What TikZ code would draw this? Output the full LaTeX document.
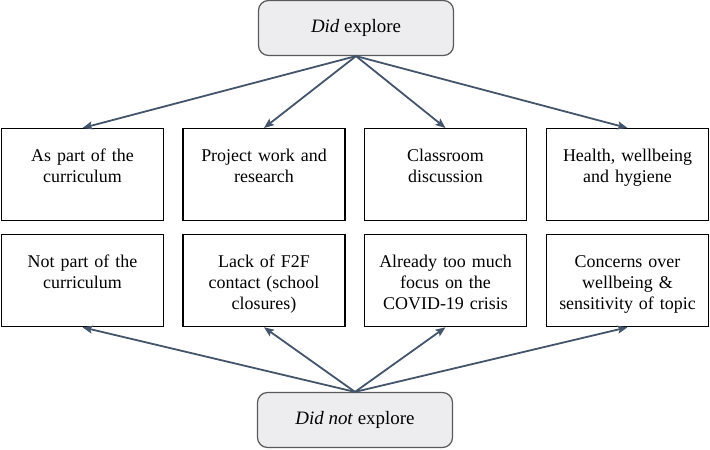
\documentclass[tikz,border=0pt]{standalone}
\usepackage{fontspec}
\setmainfont{Liberation Serif}
\usetikzlibrary{arrows.meta}
\definecolor{seta}{HTML}{44546A}
\definecolor{fundo}{HTML}{EDEDF0}
\tikzset{
caixa/.style = {draw, line width=1.3bp, text width=152bp, align=center, inner xsep=5bp, inner ysep=0pt,
    text height=33bp, text depth=59bp, anchor=north, font=\fontsize{18}{21}\selectfont}
}
\tikzset{
grupo/.style = {draw=black!65, fill=fundo, rounded corners=10bp, line width=1.2bp,
    minimum width=195bp, minimum height=55bp, font=\fontsize{19}{22}\selectfont}
}
\tikzset{
ligacao/.style = {seta, line width=1.8bp, -{Stealth[length=10bp,width=8bp,inset=2bp]}}
}
\begin{document}
\begin{tikzpicture}[x=1bp,y=-1bp]
        \useasboundingbox (0,0) rectangle (710,450);

        % grupos
        \node[grupo] (topo) at (356,28) {\textit{Did} explore};
        \node[grupo] (base) at (355,420) {\textit{Did not} explore};

        % linha de cima
        \node[caixa] (a1) at (82.5,128) {As part of the\\curriculum};
        \node[caixa] (a2) at (264,128) {Project work and\\research};
        \node[caixa] (a3) at (445.5,128) {Classroom\\discussion};
        \node[caixa] (a4) at (627.5,128) {Health, wellbeing\\and hygiene};

        % linha de baixo
        \node[caixa] (b1) at (82.5,234) {Not part of the\\curriculum};
        \node[caixa] (b2) at (264,234) {Lack of F2F\\contact (school\\closures)};
        \node[caixa] (b3) at (445.5,234) {Already too much\\focus on the\\COVID-19 crisis};
        \node[caixa] (b4) at (627.5,234) {Concerns over\\wellbeing \&\\sensitivity of topic};

        % setas
        \foreach \i in {1,...,4} {
            \draw[ligacao] (topo.south) -- (a\i.north);
            \draw[ligacao] (base.north) -- (b\i.south);
        }
    \end{tikzpicture}
\end{document}
